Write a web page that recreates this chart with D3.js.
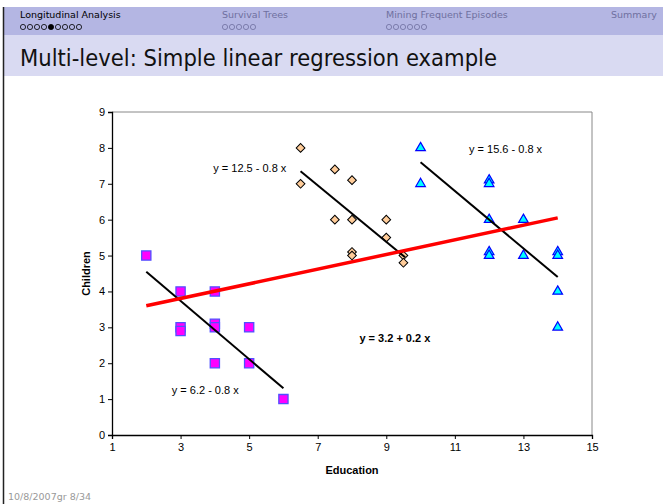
<!DOCTYPE html>
<html>
<head>
<meta charset="utf-8">
<script src="https://cdn.jsdelivr.net/npm/d3@7"></script>
<style>
  body { margin:0; background:#fff; }
  svg { display:block; }
</style>
</head>
<body>
<script>
// slide navigation
const sections = ["Longitudinal Analysis", "Survival Trees", "Mining Frequent Episodes", "Summary"];
const sectionDots = [9, 5, 6, 0];
const currentDot = 4;

// chart values
const xTicks = [1, 3, 5, 7, 9, 11, 13, 15];
const yTicks = [0, 1, 2, 3, 4, 5, 6, 7, 8, 9];

const lowX = [2, 3, 3, 3, 4, 4, 4, 4, 5, 5, 6];
const lowY = [5, 4, 3, 2.9, 4, 3.1, 3, 2, 3, 2, 1];

const midX = [6.5, 6.5, 7.5, 7.5, 8, 8, 8, 8, 9, 9, 9.5, 9.5];
const midY = [8, 7, 7.4, 6, 7.1, 6, 5.1, 5, 6, 5.5, 5, 4.8];

const highX = [10, 10, 12, 12, 12, 12, 12, 13, 13, 14, 14, 14, 14];
const highY = [8, 7, 7.1, 7, 6, 5.1, 5, 6, 5, 5.1, 5, 4, 3];

// fitted lines: [x0, y0, x1, y1]
const fitLow = [2, 4.55, 6, 1.3];
const fitMid = [6.5, 7.35, 9.55, 4.95];
const fitHigh = [10, 7.6, 14, 4.4];
const fitAll = [2, 3.6, 14, 6.05];

const eqLabels = ["y = 6.2 - 0.8 x", "y = 12.5 - 0.8 x", "y = 15.6 - 0.8 x", "y = 3.2 + 0.2 x"];
const eqPos = [[3.72, 1.13], [5.02, 7.33], [12.48, 7.87], [9.25, 2.58]];

const W = 663, H = 504;
const svg = d3.select("body").append("svg").attr("width", W).attr("height", H);

// --- slide chrome ---
svg.append("rect").attr("x", 4).attr("y", 7).attr("width", W - 4).attr("height", 28).attr("fill", "#b4b6e3");
svg.append("rect").attr("x", 4).attr("y", 35).attr("width", W - 4).attr("height", 41).attr("fill", "#d9daf2");
svg.append("line").attr("x1", 3.5).attr("x2", 3.5).attr("y1", 7).attr("y2", H).attr("stroke", "#222").attr("stroke-width", 1.5);

const secX = [20, 222, 386, 611];
sections.forEach((s, i) => {
  svg.append("text").attr("x", secX[i]).attr("y", 18)
    .attr("font-family", "DejaVu Sans, sans-serif").attr("font-size", 9.5)
    .attr("fill", i === 0 ? "#000" : "#6f70a0").text(s);
  for (let k = 0; k < sectionDots[i]; k++) {
    svg.append("circle").attr("cx", secX[i] + 3 + k * 7).attr("cy", 27).attr("r", 2.6)
      .attr("fill", (i === 0 && k === currentDot) ? "#000" : "none")
      .attr("stroke", i === 0 ? "#000" : "#6f70a0").attr("stroke-width", 0.8);
  }
});

svg.append("text").attr("x", 20).attr("y", 66)
  .attr("font-family", "DejaVu Sans, sans-serif").attr("font-size", 22.5).attr("fill", "#111")
  .attr("textLength", 477).attr("lengthAdjust", "spacingAndGlyphs")
  .text("Multi-level: Simple linear regression example");

svg.append("text").attr("x", 8).attr("y", 500)
  .attr("font-family", "DejaVu Sans, sans-serif").attr("font-size", 9.5).attr("fill", "#999")
  .text("10/8/2007gr 8/34");

// --- chart ---
const x = d3.scaleLinear().domain([1, 15]).range([112, 592]);
const y = d3.scaleLinear().domain([0, 9]).range([435, 112]);
const font = "Liberation Sans, Arial, sans-serif";

// plot frame (top and right)
svg.append("path")
  .attr("d", `M${x(1)},${y(9)}H${x(15)}V${y(0)}`)
  .attr("fill", "none").attr("stroke", "#888").attr("stroke-width", 1);

const xAxis = svg.append("g").attr("transform", `translate(0,${y(0)})`)
  .call(d3.axisBottom(x).tickValues(xTicks).tickSize(4).tickPadding(4).tickFormat(d3.format("d")));
const yAxis = svg.append("g").attr("transform", `translate(${x(1)},0)`)
  .call(d3.axisLeft(y).tickValues(yTicks).tickSize(4).tickPadding(3).tickFormat(d3.format("d")));
[xAxis, yAxis].forEach(g => {
  g.select(".domain").attr("stroke", "#000").attr("stroke-width", 1.3);
  g.selectAll(".tick line").attr("stroke", "#000");
  g.selectAll("text").attr("font-family", font).attr("font-size", 11).attr("fill", "#000");
});

svg.append("text").attr("x", (x(1) + x(15)) / 2).attr("y", 474).attr("text-anchor", "middle")
  .attr("font-family", font).attr("font-size", 11).attr("font-weight", "bold").text("Education");
svg.append("text").attr("transform", `translate(90,${(y(0) + y(9)) / 2}) rotate(-90)`)
  .attr("text-anchor", "middle")
  .attr("font-family", font).attr("font-size", 11).attr("font-weight", "bold").text("Children");

const drawLine = (f, color, w) => svg.append("line")
  .attr("x1", x(f[0])).attr("y1", y(f[1])).attr("x2", x(f[2])).attr("y2", y(f[3]))
  .attr("stroke", color).attr("stroke-width", w);

// points
const sq = d3.symbol().type(d3.symbolSquare).size(85);
svg.append("g").selectAll("path").data(d3.zip(lowX, lowY)).join("path")
  .attr("d", sq).attr("transform", d => `translate(${x(d[0])},${y(d[1])})`)
  .attr("fill", "#ff00ff").attr("stroke", "#5050ff").attr("stroke-width", 1.3);

const dia = d3.symbol().type(d3.symbolSquare).size(38);
svg.append("g").selectAll("path").data(d3.zip(midX, midY)).join("path")
  .attr("d", dia).attr("transform", d => `translate(${x(d[0])},${y(d[1])}) rotate(45)`)
  .attr("fill", "#ffcc99").attr("stroke", "#000").attr("stroke-width", 1);

const tri = d3.symbol().type(d3.symbolTriangle).size(40);
svg.append("g").selectAll("path").data(d3.zip(highX, highY)).join("path")
  .attr("d", tri).attr("transform", d => `translate(${x(d[0])},${y(d[1])})`)
  .attr("fill", "#00ffff").attr("stroke", "#0000ff").attr("stroke-width", 1.2);

drawLine(fitLow, "#000", 2);
drawLine(fitMid, "#000", 2);
drawLine(fitHigh, "#000", 2);
drawLine(fitAll, "#ff0000", 3.5);

eqLabels.forEach((t, i) => {
  svg.append("text").attr("x", x(eqPos[i][0])).attr("y", y(eqPos[i][1])).attr("text-anchor", "middle")
    .attr("font-family", font).attr("font-size", 11)
    .attr("font-weight", i === 3 ? "bold" : "normal").attr("fill", "#000").text(t);
});
</script>
</body>
</html>
